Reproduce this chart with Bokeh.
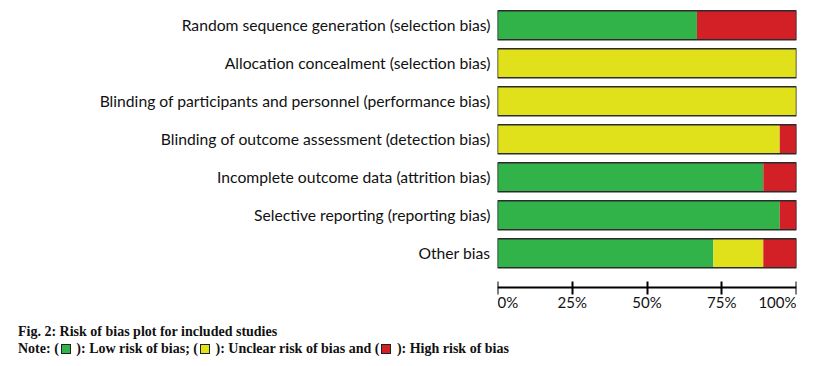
from bokeh.plotting import figure
from bokeh.models import ColumnDataSource, Range1d, FixedTicker, Div
from bokeh.layouts import column
from bokeh.core.properties import value
from bokeh.embed import file_html
from bokeh.resources import INLINE

categories = [
    "Random sequence generation (selection bias)",
    "Allocation concealment (selection bias)",
    "Blinding of participants and personnel (performance bias)",
    "Blinding of outcome assessment (detection bias)",
    "Incomplete outcome data (attrition bias)",
    "Selective reporting (reporting bias)",
    "Other bias",
]
low = [66.7, 0, 0, 0, 88.9, 94.4, 72.2]
unclear = [0, 100, 100, 94.4, 0, 0, 16.7]
high = [33.3, 0, 0, 5.6, 11.1, 5.6, 11.1]
tick_values = [0, 25, 50, 75, 100]
tick_labels = ["0%", "25%", "50%", "75%", "100%"]

GREEN, YELLOW, RED = "#32b34a", "#e1e11b", "#d32027"
LABEL_FONT = "Lato"

n = len(categories)
ypos = list(range(n, 0, -1))
total = [a + b + c for a, b, c in zip(low, unclear, high)]
src = ColumnDataSource(dict(y=ypos, low=low, unclear=unclear, high=high, total=total))

AXIS_Y = 0.1          # where the percentage axis sits (data units)
LABEL_Y = AXIS_Y - 0.37

p = figure(width=800, height=312, output_backend="svg", toolbar_location=None,
           x_range=Range1d(0, 100), y_range=Range1d(7.6 - 310 / 38, 7.6),
           min_border_left=497, min_border_right=4, min_border_top=2, min_border_bottom=0)

p.hbar_stack(["low", "unclear", "high"], y="y", height=0.76, color=[GREEN, YELLOW, RED],
             line_color=None, source=src)
p.hbar(y="y", left=0, right="total", height=0.76, fill_color=None,
       line_color="#2b2b2b", line_width=1.5, source=src)

# left axis: category labels
yax = p.yaxis[0]
yax.ticker = FixedTicker(ticks=ypos)
yax.major_label_overrides = {y: c for y, c in zip(ypos, categories)}
yax.axis_line_color = None
yax.major_tick_line_color = None
yax.minor_tick_line_color = None
yax.major_label_standoff = 1
yax.major_label_text_font = LABEL_FONT
yax.major_label_text_font_size = "15.7px"
yax.major_label_text_color = "#111111"

# percentage axis
xax = p.xaxis[0]
xax.fixed_location = AXIS_Y
xax.ticker = FixedTicker(ticks=tick_values)
xax.major_label_overrides = {v: "" for v in tick_values}
xax.axis_line_width = 2
xax.axis_line_color = "#000000"
xax.major_tick_line_width = 2
xax.major_tick_line_color = "#000000"
xax.major_tick_in = 6
xax.major_tick_out = 7
xax.minor_tick_line_color = None

aligns = ["left" if i == 0 else ("right" if i == len(tick_values) - 1 else "center")
          for i in range(len(tick_values))]
tick_src = ColumnDataSource(dict(x=tick_values, y=[LABEL_Y] * len(tick_values),
                                 label=tick_labels, align=aligns))
p.text(x="x", y="y", text="label", text_align="align", text_baseline="middle",
       text_font=value(LABEL_FONT), text_font_size="15px", text_color="#111111",
       source=tick_src)

p.grid.visible = False
p.outline_line_color = None
p.background_fill_color = "white"
p.border_fill_color = "white"

def sq(c):
    return ('<span style="display:inline-block;width:10px;height:10px;background:%s;'
            'border:1px solid #222;vertical-align:-1px;margin:0 2px 0 2px"></span>' % c)

html = ('<div style="font-family:\'Liberation Serif\',serif;font-weight:bold;font-size:14px;'
        'line-height:17px;color:#111;padding-left:13px;padding-top:6px;white-space:nowrap">'
        'Fig. 2: Risk of bias plot for included studies<br>'
        'Note: (' + sq(GREEN) + ' ): Low risk of bias; (' + sq(YELLOW) +
        ' ): Unclear risk of bias and (' + sq(RED) + ' ): High risk of bias</div>')
div = Div(text=html, width=800, height=46)

layout = column(p, div, spacing=0)
open("out.html", "w").write(file_html(layout, INLINE))
